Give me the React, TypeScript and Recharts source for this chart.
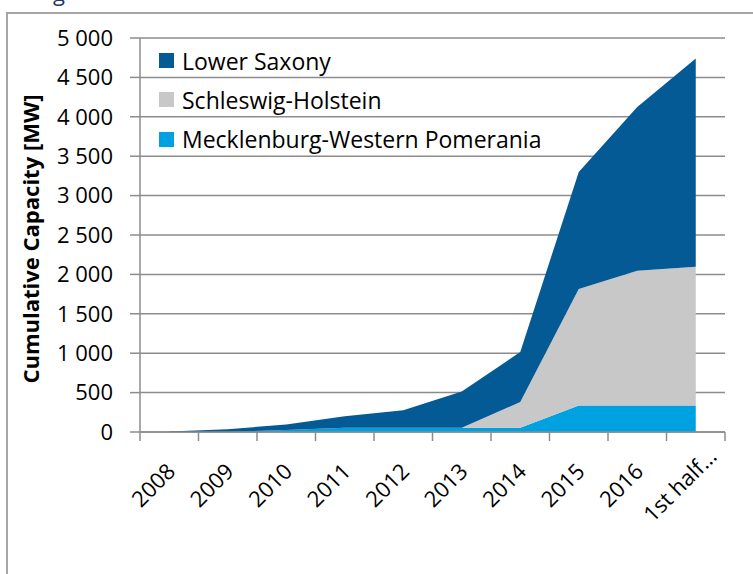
import { AreaChart, Area, XAxis, YAxis, CartesianGrid } from 'recharts'

const years = ['2008', '2009', '2010', '2011', '2012', '2013', '2014', '2015', '2016', '1st half…']
const lowerSaxony = [5, 35, 70, 145, 220, 460, 635, 1485, 2078, 2642]
const schleswigHolstein = [0, 0, 0, 0, 0, 0, 325, 1480, 1712, 1763]
const mecklenburg = [0, 0, 25, 55, 55, 55, 55, 335, 335, 335]
const yTicks = [0, 500, 1000, 1500, 2000, 2500, 3000, 3500, 4000, 4500, 5000]

const FONT = '"Open Sans", sans-serif'
const AXIS = '#8c8c8c'
const BAND = 58.5

const SERIES = [
  { key: 'ls', name: 'Lower Saxony', color: '#045a95' },
  { key: 'sh', name: 'Schleswig-Holstein', color: '#c8c8c8' },
  { key: 'mv', name: 'Mecklenburg-Western Pomerania', color: '#00a1e0' },
]

const data = years.map((year, i) => ({
  year,
  mv: mecklenburg[i],
  sh: schleswigHolstein[i],
  ls: lowerSaxony[i],
}))

const fmt = (v: number) => String(v).replace(/\B(?=(\d{3})+(?!\d))/g, ' ')

// labels are centred on a point below-left of the category centre, like Excel does
function XTick(props: any) {
  const { x, y, payload, index } = props
  const mx = x - 16
  const my = y + 53
  return (
    <g>
      <line x1={x - BAND / 2} y1={y} x2={x - BAND / 2} y2={y + 9} stroke={AXIS} strokeWidth={1.5} />
      {index === years.length - 1 && (
        <line x1={x + BAND / 2} y1={y} x2={x + BAND / 2} y2={y + 9} stroke={AXIS} strokeWidth={1.5} />
      )}
      <text
        x={mx}
        y={my}
        dy="0.36em"
        transform={`rotate(-45 ${mx} ${my})`}
        textAnchor="middle"
        fontFamily={FONT}
        fontSize={22}
        fill="#000"
      >
        {payload.value}
      </text>
    </g>
  )
}

function LegendBox() {
  return (
    <div style={{ position: 'absolute', left: 159, top: 41, fontFamily: FONT, fontSize: 23, color: '#000' }}>
      {SERIES.map((s) => (
        <div key={s.key} style={{ height: 39.3, display: 'flex', alignItems: 'center', whiteSpace: 'nowrap' }}>
          <span style={{ width: 15, height: 15, background: s.color, display: 'inline-block', marginRight: 8 }} />
          <span>{s.name}</span>
        </div>
      ))}
    </div>
  )
}

export default function App() {
  return (
    <div style={{ position: 'absolute', left: 0, top: 0, width: 753, height: 574, background: '#fff', overflow: 'hidden' }}>
      <div
        style={{
          position: 'absolute',
          left: 6,
          top: 12,
          width: 800,
          height: 700,
          borderLeft: '2px solid #a6a6a6',
          borderTop: '2px solid #a6a6a6',
        }}
      />
      <svg width={753} height={20} style={{ position: 'absolute', left: 0, top: 0 }}>
        <text x={53} y={1} fontFamily={FONT} fontSize={22} fill="#1f3864">g</text>
      </svg>
      <div style={{ position: 'absolute', left: 0, top: 0 }}>
        <AreaChart width={753} height={574} data={data} margin={{ top: 38, right: 28, bottom: 112, left: 0 }}>
          <CartesianGrid vertical={false} stroke={AXIS} strokeWidth={1.5} />
          <XAxis
            dataKey="year"
            scale="band"
            height={30}
            interval={0}
            tickLine={false}
            tickSize={0}
            tickMargin={0}
            axisLine={{ stroke: AXIS, strokeWidth: 1.5 }}
            tick={<XTick />}
          />
          <YAxis
            width={140}
            domain={[0, 5000]}
            ticks={yTicks}
            interval={0}
            tickSize={10}
            tickMargin={17}
            tickFormatter={fmt}
            axisLine={{ stroke: AXIS, strokeWidth: 1.5 }}
            tickLine={{ stroke: AXIS, strokeWidth: 1.5 }}
            tick={{ fontFamily: FONT, fontSize: 22, fill: '#000' }}
            label={{
              content: () => (
                <text
                  x={30}
                  y={239}
                  transform="rotate(-90 30 239)"
                  textAnchor="middle"
                  dominantBaseline="central"
                  fontFamily={FONT}
                  fontSize={22}
                  fontWeight="bold"
                  fill="#000"
                >
                  Cumulative Capacity [MW]
                </text>
              ),
            }}
          />
          <Area dataKey="mv" name="Mecklenburg-Western Pomerania" stackId="1" type="linear" fill="#00a1e0" stroke="none" fillOpacity={1} isAnimationActive={false} />
          <Area dataKey="sh" name="Schleswig-Holstein" stackId="1" type="linear" fill="#c8c8c8" stroke="none" fillOpacity={1} isAnimationActive={false} />
          <Area dataKey="ls" name="Lower Saxony" stackId="1" type="linear" fill="#045a95" stroke="none" fillOpacity={1} isAnimationActive={false} />
        </AreaChart>
      </div>
      <LegendBox />
    </div>
  )
}
